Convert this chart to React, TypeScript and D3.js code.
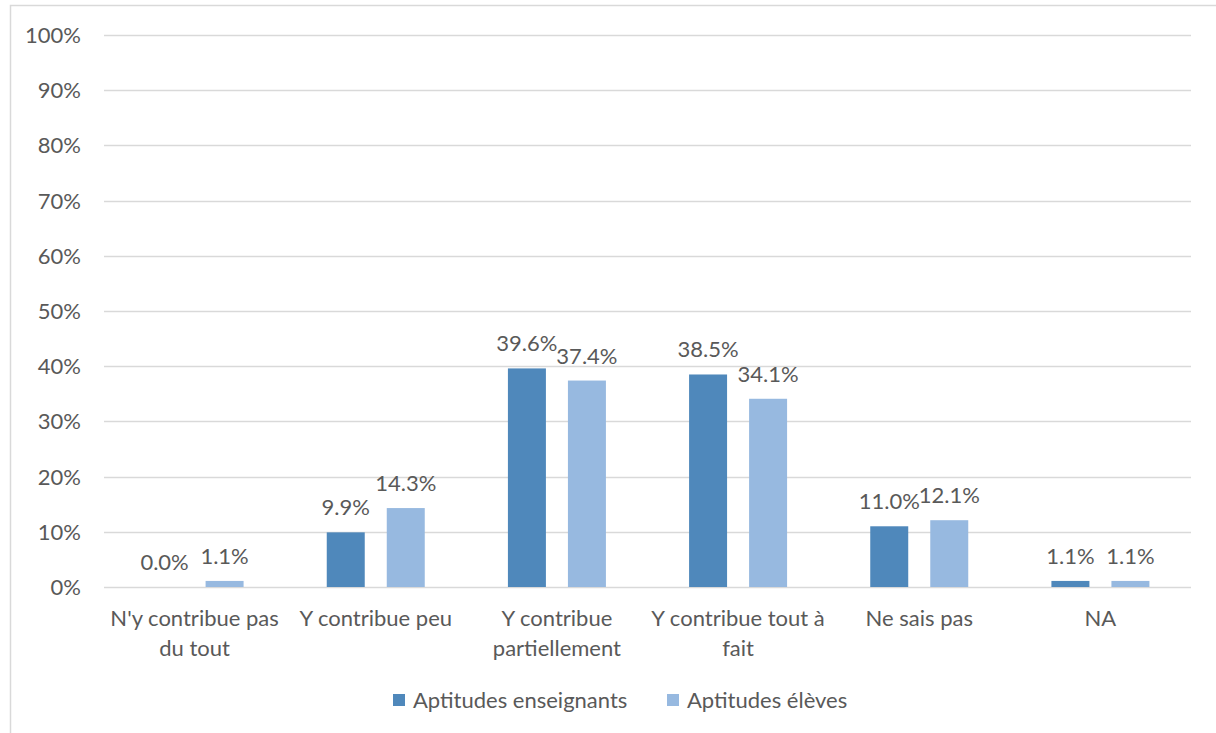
import React, { useEffect, useRef } from "react";
import { select, scaleBand, scaleLinear, range } from "d3";

const categories = [
  ["N'y contribue pas", "du tout"],
  ["Y contribue peu"],
  ["Y contribue", "partiellement"],
  ["Y contribue tout à", "fait"],
  ["Ne sais pas"],
  ["NA"],
];
const seriesNames = ["Aptitudes enseignants", "Aptitudes élèves"];
const teachers = [0.0, 9.9, 39.6, 38.5, 11.0, 1.1];
const students = [1.1, 14.3, 37.4, 34.1, 12.1, 1.1];
const yTicks = [0, 10, 20, 30, 40, 50, 60, 70, 80, 90, 100];

const colors = ["#4F88BB", "#97B9E0"];
const textColor = "#595959";
const gridColor = "#D9D9D9";
const font = "Lato, 'Open Sans', sans-serif";
const fontSize = 22;

export default function App() {
  const ref = useRef<SVGSVGElement>(null);
  const W = 1216;
  const H = 733;

  useEffect(() => {
    document.body.style.margin = "0";
    const svg = select(ref.current);
    svg.selectAll("*").remove();

    const left = 104, right = 1191, top = 35, bottom = 587;
    const x0 = scaleBand<number>().domain(range(categories.length)).range([left, right]);
    const x1 = scaleBand<number>().domain([0, 1]).range([-49, 49]).paddingInner(0.367);
    const y = scaleLinear().domain([0, 100]).range([bottom, top]);

    // chart border
    svg.append("rect")
      .attr("x", 10.5).attr("y", 5.5)
      .attr("width", W + 20).attr("height", H + 20)
      .attr("fill", "white").attr("stroke", gridColor).attr("stroke-width", 1.5);

    // gridlines + y labels
    const g = svg.append("g");
    g.selectAll("line.grid")
      .data(yTicks)
      .join("line")
      .attr("x1", left).attr("x2", right)
      .attr("y1", d => Math.round(y(d)) + 0.5).attr("y2", d => Math.round(y(d)) + 0.5)
      .attr("stroke", gridColor).attr("stroke-width", 1.5);
    g.selectAll("text.ytick")
      .data(yTicks)
      .join("text")
      .attr("x", 81).attr("y", d => y(d))
      .attr("dy", "0.36em")
      .attr("text-anchor", "end")
      .attr("fill", textColor)
      .style("font", `${fontSize}px ${font}`)
      .text(d => d + "%");

    // bars
    const series = [teachers, students];
    series.forEach((vals, s) => {
      const cx = (i: number) => x0(i)! + x0.bandwidth() / 2 + x1(s)!;
      svg.append("g").selectAll("rect")
        .data(vals)
        .join("rect")
        .attr("x", (d, i) => cx(i))
        .attr("width", x1.bandwidth())
        .attr("y", d => y(d))
        .attr("height", d => y(0) - y(d))
        .attr("fill", colors[s]);
      svg.append("g").selectAll("text")
        .data(vals)
        .join("text")
        .attr("x", (d, i) => cx(i) + x1.bandwidth() / 2)
        .attr("y", d => y(d) - 17)
        .attr("text-anchor", "middle")
        .attr("fill", textColor)
        .style("font", `${fontSize}px ${font}`)
        .text(d => d.toFixed(1) + "%");
    });

    // category labels
    categories.forEach((lines, i) => {
      const t = svg.append("text")
        .attr("x", x0(i)! + x0.bandwidth() / 2)
        .attr("y", 626)
        .attr("text-anchor", "middle")
        .attr("fill", textColor)
        .style("font", `${fontSize}px ${font}`);
      lines.forEach((l, j) => {
        t.append("tspan")
          .attr("x", x0(i)! + x0.bandwidth() / 2)
          .attr("dy", j === 0 ? 0 : 30)
          .text(l);
      });
    });

    // legend
    const legendX = [393, 667];
    seriesNames.forEach((name, s) => {
      svg.append("rect")
        .attr("x", legendX[s]).attr("y", 694)
        .attr("width", 12).attr("height", 12)
        .attr("fill", colors[s]);
      svg.append("text")
        .attr("x", legendX[s] + 20).attr("y", 700)
        .attr("dy", "0.36em")
        .attr("fill", textColor)
        .style("font", `${fontSize}px ${font}`)
        .text(name);
    });
  }, []);

  return <svg ref={ref} width={W} height={H} style={{ display: "block" }} />;
}
